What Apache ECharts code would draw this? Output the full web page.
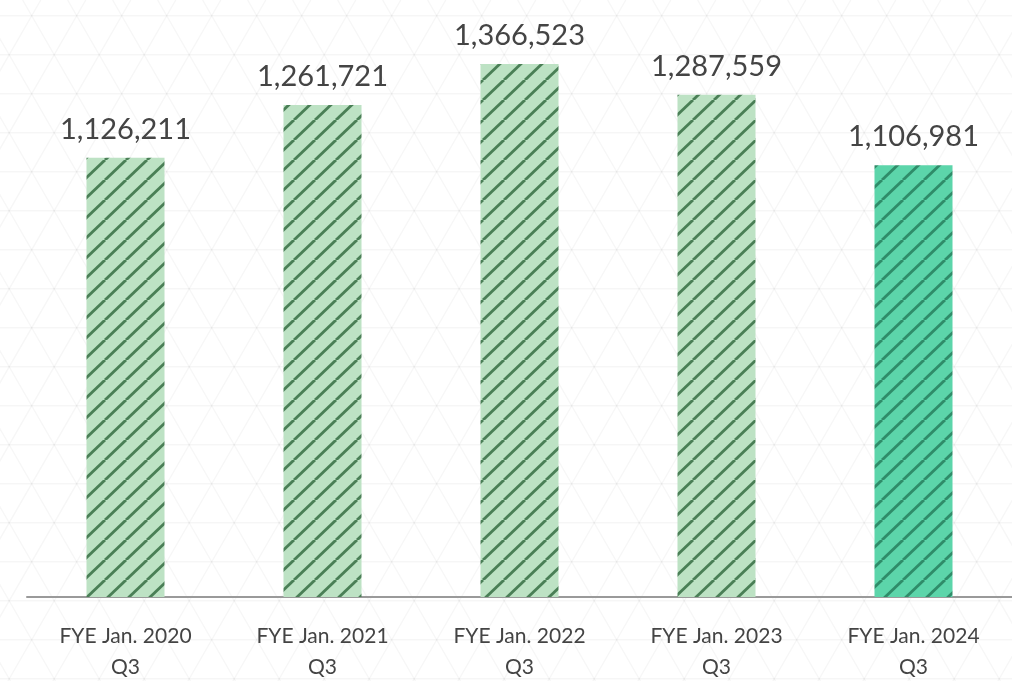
<!DOCTYPE html>
<html>
<head>
<meta charset="utf-8">
<script src="https://cdn.jsdelivr.net/npm/echarts@6/dist/echarts.min.js"></script>
<style>
  html, body { margin: 0; padding: 0; background: #ffffff; }
  #chart { width: 1012px; height: 681px; }
</style>
</head>
<body>
<div id="chart"></div>
<script>
// Q3 results by fiscal year
const fiscalYears = ['FYE Jan. 2020', 'FYE Jan. 2021', 'FYE Jan. 2022', 'FYE Jan. 2023', 'FYE Jan. 2024'];
const quarters = ['Q3', 'Q3', 'Q3', 'Q3', 'Q3'];
const values = [1126211, 1261721, 1366523, 1287559, 1106981];

const categories = fiscalYears.map((fy, i) => fy + '\n' + quarters[i]);

// Diagonal hatch tile: solid fill with "/" stripes that tile seamlessly
function hatch(fill, stripe) {
  const W = 21, H = 20;
  const c = document.createElement('canvas');
  c.width = W; c.height = H;
  const ctx = c.getContext('2d');
  ctx.fillStyle = fill;
  ctx.fillRect(0, 0, W, H);
  ctx.strokeStyle = stripe;
  ctx.lineWidth = 2.9;
  ctx.filter = 'blur(0.5px)';
  for (let k = -1; k <= 1; k++) {
    ctx.beginPath();
    ctx.moveTo(k * W, H);
    ctx.lineTo(k * W + W, 0);
    ctx.stroke();
  }
  return { image: c, repeat: 'repeat' };
}

const pastFill = hatch('#bde2c4', '#4a7f56');
const currentFill = hatch('#5cd5aa', '#2f8c69');

// Faint triangular lattice behind the chart
function lattice(width, height) {
  const side = 45, row = 39, ox = 31.7, oy = 15.8;
  const style = { stroke: 'rgba(0,0,0,0.035)', lineWidth: 1.4 };
  const lines = [];
  for (let y = oy; y < height + row; y += row) {
    lines.push({ type: 'line', silent: true, shape: { x1: 0, y1: y, x2: width, y2: y }, style });
  }
  const slope = row / (side / 2);
  const span = height / slope;
  for (let x = ox - side * 40; x < width + span + side; x += side) {
    const xa = x + (0 - oy) / slope, xb = x + (height - oy) / slope;
    lines.push({ type: 'line', silent: true, shape: { x1: xa, y1: 0, x2: xb, y2: height }, style });
    const xc = x - (0 - oy) / slope, xd = x - (height - oy) / slope;
    lines.push({ type: 'line', silent: true, shape: { x1: xc, y1: 0, x2: xd, y2: height }, style });
  }
  return lines;
}

const chart = echarts.init(document.getElementById('chart'), null, { renderer: 'canvas' });

chart.setOption({
  backgroundColor: '#ffffff',
  animation: false,
  graphic: [{
    type: 'group',
    silent: true,
    z: -10,
    children: lattice(1012, 681)
  }],
  grid: { left: 27, right: 0, top: 12, bottom: 84, containLabel: false, outerBoundsMode: 'none' },
  xAxis: {
    type: 'category',
    data: categories,
    axisLine: { show: true, lineStyle: { color: '#9a9a9a', width: 2 } },
    axisTick: { show: false },
    axisLabel: {
      margin: 24,
      color: '#444444',
      fontFamily: 'Lato',
      fontSize: 21,
      lineHeight: 31,
      interval: 0
    },
    splitLine: { show: false }
  },
  yAxis: {
    type: 'value',
    min: 0,
    max: 1500000,
    show: false,
    splitLine: { show: false }
  },
  series: [{
    type: 'bar',
    barWidth: 78,
    data: values.map((v, i) => ({
      value: v,
      itemStyle: { color: i === values.length - 1 ? currentFill : pastFill }
    })),
    label: {
      show: true,
      position: 'top',
      distance: 14,
      color: '#444444',
      fontFamily: 'Lato',
      fontSize: 29,
      formatter: p => p.value.toLocaleString('en-US')
    }
  }]
});
</script>
</body>
</html>
